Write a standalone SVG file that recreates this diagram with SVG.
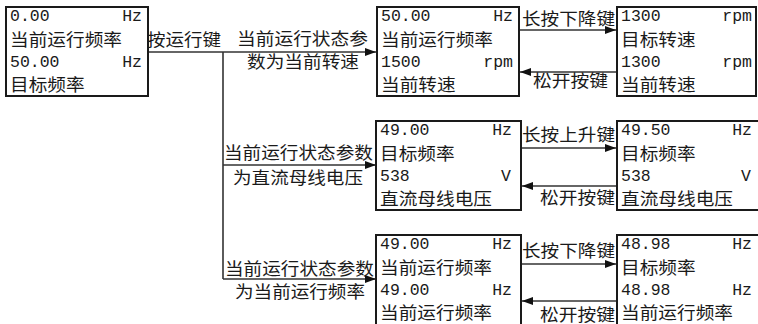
<svg xmlns="http://www.w3.org/2000/svg" width="758" height="324" viewBox="0 0 758 324">
<style>
.box{fill:#fff;stroke:#1a1a1a;stroke-width:2}
.cj{font-family:"Noto Sans CJK SC","Noto Sans",sans-serif;font-size:16.8px;fill:#1a1a1a}
.la{font-family:"Liberation Mono","DejaVu Sans Mono",monospace;font-size:16.5px;fill:#1a1a1a}
.u{text-anchor:end}
.ln{fill:none;stroke:#333;stroke-width:1.6}
</style>
<defs>
<marker id="ah" markerUnits="userSpaceOnUse" markerWidth="12" markerHeight="8" refX="11" refY="4" orient="auto">
<path d="M0,0 L11,4 L0,8 z" fill="#111"/>
</marker>
</defs>
<rect width="758" height="324" fill="#fff"/>
<g id="connectors">
<line class="ln" x1="148" y1="52" x2="376" y2="52" marker-end="url(#ah)"/>
<polyline class="ln" points="223,52 223,279"/>
<line class="ln" x1="223" y1="165" x2="376" y2="165" marker-end="url(#ah)"/>
<line class="ln" x1="223" y1="279" x2="376" y2="279" marker-end="url(#ah)"/>
<line class="ln" x1="520" y1="30" x2="616" y2="30" marker-end="url(#ah)"/>
<line class="ln" x1="617" y1="72" x2="520" y2="72" marker-end="url(#ah)"/>
<line class="ln" x1="522" y1="148" x2="616" y2="148" marker-end="url(#ah)"/>
<line class="ln" x1="617" y1="186" x2="522" y2="186" marker-end="url(#ah)"/>
<line class="ln" x1="522" y1="264" x2="616" y2="264" marker-end="url(#ah)"/>
<line class="ln" x1="617" y1="301" x2="522" y2="301" marker-end="url(#ah)"/>
<text class="cj" x="147" y="46" textLength="74" lengthAdjust="spacingAndGlyphs">按运行键</text>
<text class="cj" x="237" y="45" textLength="131" lengthAdjust="spacingAndGlyphs">当前运行状态参</text>
<text class="cj" x="247" y="68" textLength="112" lengthAdjust="spacingAndGlyphs">数为当前转速</text>
<text class="cj" x="224" y="158.5" textLength="149" lengthAdjust="spacingAndGlyphs">当前运行状态参数</text>
<text class="cj" x="233" y="183.5" textLength="130" lengthAdjust="spacingAndGlyphs">为直流母线电压</text>
<text class="cj" x="225" y="274.5" textLength="149" lengthAdjust="spacingAndGlyphs">当前运行状态参数</text>
<text class="cj" x="235" y="297.5" textLength="130" lengthAdjust="spacingAndGlyphs">为当前运行频率</text>
<text class="cj" x="522" y="24.5" textLength="93" lengthAdjust="spacingAndGlyphs">长按下降键</text>
<text class="cj" x="533" y="87" textLength="75" lengthAdjust="spacingAndGlyphs">松开按键</text>
<text class="cj" x="522" y="140.5" textLength="93" lengthAdjust="spacingAndGlyphs">长按上升键</text>
<text class="cj" x="540" y="203.5" textLength="75" lengthAdjust="spacingAndGlyphs">松开按键</text>
<text class="cj" x="522" y="256.5" textLength="93" lengthAdjust="spacingAndGlyphs">长按下降键</text>
<text class="cj" x="540" y="320.5" textLength="75" lengthAdjust="spacingAndGlyphs">松开按键</text>
</g>
<g id="n1">
<rect class="box" x="6" y="7" width="142" height="89"/>
<text class="la" x="10" y="21">0.00</text><text class="la u" x="142" y="21">Hz</text>
<text class="cj" x="10" y="45.5" textLength="112" lengthAdjust="spacingAndGlyphs">当前运行频率</text>
<text class="la" x="10" y="67">50.00</text><text class="la u" x="142" y="67">Hz</text>
<text class="cj" x="10" y="91" textLength="74.6" lengthAdjust="spacingAndGlyphs">目标频率</text>
</g>
<g id="n2">
<rect class="box" x="377" y="7" width="142" height="89"/>
<text class="la" x="381" y="21">50.00</text><text class="la u" x="513" y="21">Hz</text>
<text class="cj" x="381" y="45.5" textLength="112" lengthAdjust="spacingAndGlyphs">当前运行频率</text>
<text class="la" x="381" y="67">1500</text><text class="la u" x="513" y="67">rpm</text>
<text class="cj" x="381" y="91" textLength="74.6" lengthAdjust="spacingAndGlyphs">当前转速</text>
</g>
<g id="n3">
<rect class="box" x="617" y="7" width="139" height="89"/>
<text class="la" x="621" y="21">1300</text><text class="la u" x="752" y="21">rpm</text>
<text class="cj" x="621" y="45.5" textLength="74.6" lengthAdjust="spacingAndGlyphs">目标转速</text>
<text class="la" x="621" y="67">1300</text><text class="la u" x="752" y="67">rpm</text>
<text class="cj" x="621" y="91" textLength="74.6" lengthAdjust="spacingAndGlyphs">当前转速</text>
</g>
<g id="n4">
<rect class="box" x="376" y="121" width="145" height="89"/>
<text class="la" x="380" y="135">49.00</text><text class="la u" x="512" y="135">Hz</text>
<text class="cj" x="380" y="159.5" textLength="74.6" lengthAdjust="spacingAndGlyphs">目标频率</text>
<text class="la" x="380" y="181">538</text><text class="la u" x="511" y="181">V</text>
<text class="cj" x="380" y="205" textLength="112" lengthAdjust="spacingAndGlyphs">直流母线电压</text>
</g>
<g id="n5">
<rect class="box" x="617" y="121" width="145" height="89"/>
<text class="la" x="621" y="135">49.50</text><text class="la u" x="752" y="135">Hz</text>
<text class="cj" x="621" y="159.5" textLength="74.6" lengthAdjust="spacingAndGlyphs">目标频率</text>
<text class="la" x="621" y="181">538</text><text class="la u" x="751" y="181">V</text>
<text class="cj" x="621" y="205" textLength="112" lengthAdjust="spacingAndGlyphs">直流母线电压</text>
</g>
<g id="n6">
<rect class="box" x="376" y="235" width="145" height="95"/>
<text class="la" x="380" y="249">49.00</text><text class="la u" x="512" y="249">Hz</text>
<text class="cj" x="380" y="273.5" textLength="112" lengthAdjust="spacingAndGlyphs">当前运行频率</text>
<text class="la" x="380" y="295">49.00</text><text class="la u" x="512" y="295">Hz</text>
<text class="cj" x="380" y="319" textLength="112" lengthAdjust="spacingAndGlyphs">当前运行频率</text>
</g>
<g id="n7">
<rect class="box" x="617" y="235" width="145" height="95"/>
<text class="la" x="621" y="249">48.98</text><text class="la u" x="752" y="249">Hz</text>
<text class="cj" x="621" y="273.5" textLength="74.6" lengthAdjust="spacingAndGlyphs">目标频率</text>
<text class="la" x="621" y="295">48.98</text><text class="la u" x="752" y="295">Hz</text>
<text class="cj" x="621" y="319" textLength="112" lengthAdjust="spacingAndGlyphs">当前运行频率</text>
</g>
</svg>
